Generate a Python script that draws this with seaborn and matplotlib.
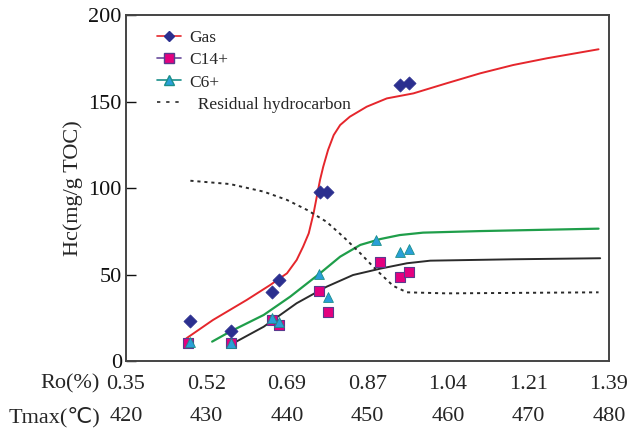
import numpy as np
import pandas as pd
import matplotlib
matplotlib.use("Agg")
import matplotlib.pyplot as plt
from matplotlib.lines import Line2D
import seaborn as sns

# ---- measured samples (Tmax in degC, Hc in mg/g TOC) ----
gas_tmax = [428.0, 433.1, 438.1, 439.0, 444.1, 445.0, 454.0, 455.2]
gas_hc = [23.3, 17.3, 40.1, 46.8, 97.5, 97.5, 159.5, 160.5]

c14_tmax = [427.7, 433.0, 438.1, 439.0, 444.0, 445.1, 451.5, 454.0, 455.1]
c14_hc = [10.6, 10.2, 23.7, 20.8, 40.6, 28.5, 57.1, 48.7, 51.3]

c6_tmax = [428.0, 433.0, 438.1, 439.0, 444.0, 445.1, 451.1, 454.0, 455.2]
c6_hc = [11.2, 10.6, 24.9, 22.7, 50.3, 37.2, 69.9, 62.8, 64.7]

# ---- trend curves ----
gas_fit_tmax = [427.5, 430.8, 435.0, 437.9, 440.0, 441.2, 442.0, 442.7, 443.3,
                443.7, 444.1, 444.5, 445.1, 445.8, 446.6, 447.8, 449.9, 452.4,
                455.7, 459.8, 464.0, 468.1, 472.3, 478.7]
gas_fit_hc = [13.1, 23.7, 35.3, 43.9, 50.7, 58.4, 66.1, 73.8, 85.4,
              95.0, 104.6, 112.3, 122.0, 130.6, 136.4, 141.2, 147.0, 151.8,
              154.7, 160.5, 166.3, 171.1, 175.0, 180.2]

c6_fit_tmax = [430.7, 432.9, 437.1, 440.4, 444.1, 446.6, 449.1, 451.6, 454.0,
               456.9, 464.0, 478.7]
c6_fit_hc = [11.2, 16.9, 26.6, 37.2, 50.7, 60.3, 67.1, 70.5, 72.8,
             74.2, 75.1, 76.5]

c14_fit_tmax = [433.3, 437.1, 441.2, 444.9, 448.2, 451.6, 454.9, 457.8, 468.1,
                478.9]
c14_fit_hc = [10.2, 19.8, 33.4, 42.9, 49.7, 53.4, 56.5, 58.0, 58.8, 59.4]

resid_tmax = [428.0, 432.9, 437.1, 440.0, 442.5, 444.9, 447.0, 449.1, 451.1,
              453.2, 454.9, 459.8, 478.7]
resid_hc = [104.2, 102.3, 97.9, 93.1, 87.3, 80.5, 71.8, 62.3, 52.6,
            43.4, 39.7, 39.1, 39.7]

# ---- axis labels ----
tmax_ticks = [420, 430, 440, 450, 460, 470, 480]
ro_labels = ["0.35", "0.52", "0.69", "0.87", "1.04", "1.21", "1.39"]
y_ticks = [0, 50, 100, 150, 200]

sns.set_style("ticks")
plt.rcParams["font.family"] = ["Liberation Serif", "DejaVu Sans"]
plt.rcParams["axes.edgecolor"] = "#444444"

RED = "#e5262c"
NAVY = "#2b2f8f"
MAGENTA = "#e4007f"
PURPLE = "#5b3a8e"
CYAN = "#2a9fd8"
TEAL = "#1a8f8a"
GREEN = "#1f9e4a"
DARK = "#2b2b2b"

fig = plt.figure(figsize=(6.3, 4.34), dpi=100)
ax = fig.add_axes([0.2, 0.1682, 0.7667, 0.7972])

def curve(x, y, **kw):
    df = pd.DataFrame({"x": x, "y": y})
    sns.lineplot(data=df, x="x", y="y", sort=False, estimator=None, ax=ax, **kw)

curve(gas_fit_tmax, gas_fit_hc, color=RED, lw=1.4)
curve(c6_fit_tmax, c6_fit_hc, color=GREEN, lw=1.6)
curve(c14_fit_tmax, c14_fit_hc, color=DARK, lw=1.4)
curve(resid_tmax, resid_hc, color=DARK, lw=1.4, dashes=(1.6, 2.0))

def points(x, y, **kw):
    df = pd.DataFrame({"x": x, "y": y})
    sns.scatterplot(data=df, x="x", y="y", ax=ax, zorder=5, **kw)

points(gas_tmax, gas_hc, marker="D", s=45, color=NAVY, edgecolor=NAVY, linewidth=0.5)
points(c14_tmax, c14_hc, marker="s", s=55, color=MAGENTA, edgecolor=PURPLE, linewidth=0.8)
points(c6_tmax, c6_hc, marker="^", s=50, color=CYAN, edgecolor=TEAL, linewidth=0.6)

ax.set_xlim(420, 480)
ax.set_ylim(0, 200)
ax.set_yticks(y_ticks)
ax.set_yticklabels([str(v) for v in y_ticks], fontsize=16)
ax.tick_params(axis="y", direction="in", length=7, width=1.0, pad=3, colors="#111111")
ax.set_xticks([])
ax.set_xlabel("")
ax.set_ylabel("Hc(mg/g TOC)", fontsize=16, labelpad=4)
for s in ax.spines.values():
    s.set_linewidth(1.4)
    s.set_visible(True)

# two rows of x labels: vitrinite reflectance and Tmax
trans = ax.get_xaxis_transform()
for t, r in zip(tmax_ticks, ro_labels):
    ax.text(t, -23 / 346, r, transform=trans, ha="center", va="center", fontsize=16)
    ax.text(t, -56 / 346, str(t), transform=trans, ha="center", va="center", fontsize=16)
fig.text(100 / 630, 1 - 384 / 434, "Ro(%)", ha="right", va="center", fontsize=16)
fig.text(100 / 630, 1 - 417 / 434, "Tmax(℃)", ha="right", va="center", fontsize=16)

handles = [
    Line2D([], [], color=RED, lw=1.2, marker="D", markersize=5.5,
           markerfacecolor=NAVY, markeredgecolor=NAVY),
    Line2D([], [], color="#6a4c9c", lw=1.2, marker="s", markersize=6.5,
           markerfacecolor=MAGENTA, markeredgecolor=PURPLE),
    Line2D([], [], color=TEAL, lw=1.2, marker="^", markersize=7,
           markerfacecolor=CYAN, markeredgecolor=TEAL),
    Line2D([], [], color=DARK, lw=1.2, dashes=(2, 3.5)),
]
labels = ["Gas", "C14+", "C6+", "  Residual hydrocarbon"]
ax.legend(handles, labels, loc="upper left", bbox_to_anchor=(0.064, 0.956),
          frameon=False, fontsize=12.5, handlelength=1.4, handletextpad=0.45,
          labelspacing=0.34, borderpad=0, borderaxespad=0)

fig.savefig("out.png", dpi=100)
